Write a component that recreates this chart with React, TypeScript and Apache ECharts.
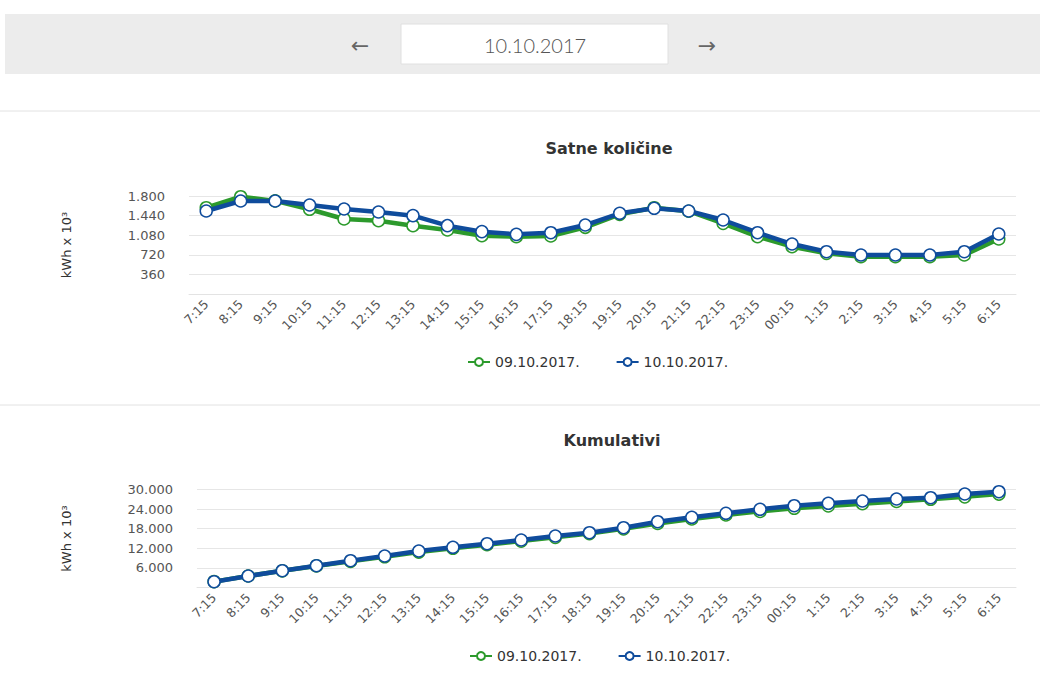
import React, { useEffect, useRef } from "react";
import * as echarts from "echarts";

const categories = ["7:15","8:15","9:15","10:15","11:15","12:15","13:15","14:15","15:15","16:15","17:15","18:15","19:15","20:15","21:15","22:15","23:15","00:15","1:15","2:15","3:15","4:15","5:15","6:15"];
const seriesNames = ["09.10.2017.", "10.10.2017."];
const hourlyPrev = [1585,1787,1710,1556,1378,1347,1255,1176,1071,1053,1065,1225,1463,1585,1520,1298,1053,869,747,685,685,685,716,1010];
const hourlyCurr = [1525,1708,1708,1635,1561,1506,1439,1255,1145,1096,1126,1267,1482,1574,1525,1359,1126,918,777,716,716,716,777,1102];
const cumulPrev = [1800,3520,5100,6600,8000,9400,10850,12000,13100,14200,15350,16500,17950,19600,21000,22200,23300,24250,24950,25650,26350,27000,27750,28600];
const cumulCurr = [1776,3520,5143,6673,8204,9642,11173,12306,13408,14540,15765,16775,18305,20142,21489,22713,23938,25040,25774,26478,27090,27488,28620,29325];
const hourlyTicks = [0, 360, 720, 1080, 1440, 1800];
const cumulTicks = [0, 6000, 12000, 18000, 24000, 30000];

const GREEN = "#2c9a2c";
const BLUE = "#0f4c9c";
const FONT = "DejaVu Sans";

const fmt = (v: number) => (v === 0 ? "" : v.toString().replace(/\B(?=(\d{3})+(?!\d))/g, "."));

function makeSeries(name: string, data: number[], color: string, idx: number, z: number) {
  return {
    type: "line",
    name,
    data,
    xAxisIndex: idx,
    yAxisIndex: idx,
    symbol: "circle",
    symbolSize: 12,
    z,
    lineStyle: { color, width: 4.5 },
    itemStyle: { color: "#ffffff", borderColor: color, borderWidth: 1.5 },
  };
}

export default function App() {
  const ref = useRef<HTMLDivElement>(null);
  useEffect(() => {
    const chart = echarts.init(ref.current!, null, { renderer: "svg" });
    const xAxisBase = (gridIndex: number) => ({
      type: "category",
      gridIndex,
      data: categories,
      boundaryGap: true,
      axisLine: { lineStyle: { color: "#e3e3e3" } },
      axisTick: { show: false },
      axisLabel: { rotate: 45, color: "#555", fontSize: 12.5, fontFamily: FONT, margin: 8, interval: 0 },
    });
    const yAxisBase = (gridIndex: number, ticks: number[], gap: number) => ({
      type: "value",
      gridIndex,
      min: ticks[0],
      max: ticks[ticks.length - 1],
      interval: ticks[1] - ticks[0],
      name: "kWh x 10³",
      nameLocation: "middle",
      nameGap: gap,
      nameTextStyle: { color: "#333", fontSize: 13, fontFamily: FONT },
      axisLine: { show: false },
      axisTick: { show: false },
      axisLabel: { color: "#555", fontSize: 13, fontFamily: FONT, margin: 24, formatter: fmt },
      splitLine: { lineStyle: { color: "#e6e6e6" } },
    });
    chart.setOption({
      animation: false,
      backgroundColor: "#ffffff",
      title: [
        { text: "Satne količine", left: 604, top: 135, textAlign: "center", textStyle: { fontFamily: FONT, fontSize: 16, fontWeight: "bold", color: "#333" } },
        { text: "Kumulativi", left: 607, top: 427, textAlign: "center", textStyle: { fontFamily: FONT, fontSize: 16, fontWeight: "bold", color: "#333" } },
      ],
      legend: [
        { data: seriesNames, left: 462, top: 350, itemWidth: 22, itemHeight: 10, itemGap: 36, textStyle: { fontFamily: FONT, fontSize: 14, color: "#333" } },
        { data: seriesNames, left: 464, top: 644, itemWidth: 22, itemHeight: 10, itemGap: 36, textStyle: { fontFamily: FONT, fontSize: 14, color: "#333" } },
      ],
      grid: [
        { left: 189, right: 24, top: 196, height: 98 },
        { left: 197, right: 24, top: 489.5, height: 98 },
      ],
      xAxis: [xAxisBase(0), xAxisBase(1)],
      yAxis: [yAxisBase(0, hourlyTicks, 116), yAxisBase(1, cumulTicks, 124)],
      series: [
        makeSeries(seriesNames[0], hourlyPrev, GREEN, 0, 2),
        makeSeries(seriesNames[1], hourlyCurr, BLUE, 0, 3),
        makeSeries(seriesNames[0], cumulPrev, GREEN, 1, 2),
        makeSeries(seriesNames[1], cumulCurr, BLUE, 1, 3),
      ],
      graphic: [
        { type: "rect", shape: { x: 5, y: 14, width: 1040, height: 60 }, style: { fill: "#ececec" }, z: 0 },
        { type: "rect", shape: { x: 401, y: 24, width: 267, height: 40 }, style: { fill: "#ffffff", stroke: "#e0e0e0", lineWidth: 1 }, z: 1 },
        { type: "text", x: 535, y: 45, style: { text: "10.10.2017", fontFamily: "Lato", fontSize: 20, fontWeight: 300, fill: "#555", align: "center", verticalAlign: "middle" }, z: 2 },
        { type: "text", x: 360, y: 45, style: { text: "←", fontFamily: FONT, fontSize: 22, fill: "#666", align: "center", verticalAlign: "middle" }, z: 2 },
        { type: "text", x: 707, y: 45, style: { text: "→", fontFamily: FONT, fontSize: 22, fill: "#666", align: "center", verticalAlign: "middle" }, z: 2 },
        { type: "line", shape: { x1: 0, y1: 111, x2: 1040, y2: 111 }, style: { stroke: "#e2e2e2", lineWidth: 1 } },
        { type: "line", shape: { x1: 0, y1: 405, x2: 1040, y2: 405 }, style: { stroke: "#e2e2e2", lineWidth: 1 } },
      ],
    });
    return () => chart.dispose();
  }, []);
  return <div ref={ref} style={{ position: "absolute", left: 0, top: 0, width: 1040, height: 673 }} />;
}
